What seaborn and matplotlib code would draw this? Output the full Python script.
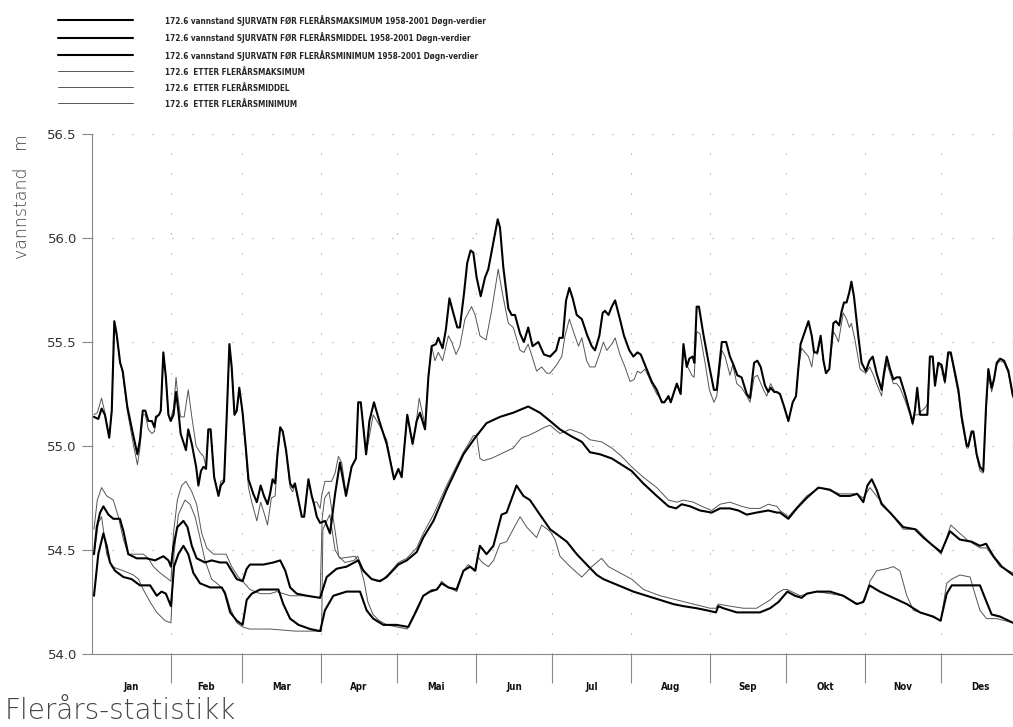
import os
import matplotlib
matplotlib.use("Agg")
import matplotlib.pyplot as plt
from matplotlib import font_manager as fm
import seaborn as sns
import numpy as np

# ---------------- data (day of year, water level m) ----------------
maks_for_day = [0.7,2.4,3.7,5.0,6.7,7.7,8.7,9.6,11.0,12.0,13.8,16.0,17.8,18.8,19.9,20.9,22.1,23.5,24.5,25.1,26.3,27.0,28.0,29.0,30.0,30.9,32.0,33.0,33.9,34.8,36.9,37.8,39.2,40.9,41.8,42.8,43.8,44.8,45.7,46.6,48.0,49.7,50.6,51.9,53.0,54.0,54.9,56.0,56.9,57.9,59.2,60.4,61.5,63.4,64.8,66.3,67.6,69.0,70.0,71.0,72.0,72.9,74.0,75.0,76.3,77.9,78.9,79.8,80.8,82.5,83.4,85.1,86.4,87.3,88.4,89.7,91.6,93.6,95.6,97.5,99.9,102.1,103.8,104.7,105.7,107.8,109.1,110.9,113.0,115.9,118.8,120.5,121.8,124.0,126.1,127.7,129.0,131.0,132.3,133.6,135.3,136.2,137.9,139.2,140.6,142.1,143.7,144.7,146.3,147.6,148.9,150.0,151.3,152.9,154.6,155.9,157.6,159.6,160.5,161.8,163.8,165.1,166.4,168.4,169.9,171.6,173.3,175.6,177.8,180.2,182.6,183.9,185.2,186.5,187.8,189.1,190.7,192.7,194.9,196.6,197.9,199.6,200.9,201.8,203.2,204.5,205.8,207.7,209.3,211.4,213.0,214.6,215.9,218.2,220.2,222.2,224.2,225.2,226.8,227.7,229.0,230.1,231.6,232.7,234.0,235.0,236.3,237.0,237.9,238.8,240.5,242.9,244.7,245.8,247.8,249.5,251.0,252.4,253.9,255.6,257.6,258.9,260.5,261.8,263.1,264.8,266.1,267.0,268.4,269.4,270.7,272.3,274.0,275.7,277.0,277.9,278.8,280.2,281.9,283.2,284.1,285.4,286.7,287.8,288.8,290.1,291.7,292.7,294.0,295.0,295.9,296.9,298.0,298.8,299.8,301.5,302.8,304.5,305.9,307.2,308.7,310.7,311.6,312.7,314.0,315.3,316.6,317.9,319.9,321.9,322.9,323.8,324.7,325.8,327.1,328.7,329.7,330.8,331.7,333.0,334.3,335.6,336.9,337.9,339.6,340.9,342.2,344.2,344.8,346.1,346.8,348.1,349.4,350.7,351.8,352.7,354.0,354.9,356.0,357.3,358.9,360.6,362.4]
maks_for_val = [55.14,55.13,55.18,55.15,55.04,55.17,55.60,55.54,55.40,55.36,55.19,55.06,54.96,55.03,55.17,55.17,55.12,55.12,55.09,55.14,55.15,55.17,55.45,55.33,55.15,55.12,55.15,55.26,55.17,55.06,54.98,55.08,55.01,54.90,54.81,54.88,54.90,54.89,55.08,55.08,54.85,54.76,54.81,54.83,55.16,55.49,55.38,55.15,55.17,55.28,55.16,55.00,54.84,54.77,54.73,54.81,54.76,54.72,54.77,54.84,54.82,54.96,55.09,55.07,54.98,54.82,54.80,54.82,54.76,54.66,54.66,54.84,54.76,54.72,54.66,54.63,54.64,54.58,54.77,54.92,54.76,54.90,54.94,55.21,55.21,54.96,55.12,55.21,55.12,55.01,54.84,54.89,54.85,55.15,55.01,55.12,55.16,55.08,55.33,55.48,55.49,55.52,55.47,55.56,55.71,55.64,55.57,55.57,55.73,55.88,55.94,55.93,55.81,55.72,55.81,55.85,55.96,56.09,56.05,55.86,55.66,55.63,55.63,55.54,55.50,55.57,55.48,55.50,55.44,55.43,55.46,55.52,55.52,55.70,55.76,55.71,55.63,55.61,55.53,55.48,55.46,55.53,55.64,55.65,55.63,55.67,55.70,55.61,55.53,55.46,55.43,55.45,55.44,55.37,55.31,55.27,55.21,55.21,55.24,55.21,55.26,55.30,55.25,55.49,55.38,55.42,55.43,55.40,55.67,55.67,55.54,55.38,55.27,55.27,55.50,55.50,55.43,55.39,55.34,55.33,55.25,55.23,55.40,55.41,55.38,55.29,55.26,55.28,55.26,55.26,55.25,55.19,55.12,55.21,55.24,55.37,55.49,55.54,55.60,55.53,55.45,55.45,55.53,55.41,55.35,55.37,55.59,55.60,55.58,55.65,55.69,55.69,55.74,55.79,55.72,55.53,55.40,55.36,55.41,55.43,55.35,55.27,55.35,55.43,55.37,55.32,55.33,55.33,55.25,55.16,55.11,55.17,55.28,55.15,55.15,55.15,55.43,55.43,55.29,55.40,55.39,55.31,55.45,55.45,55.35,55.27,55.14,55.00,55.00,55.07,55.07,54.96,54.90,54.88,55.19,55.37,55.28,55.32,55.40,55.42,55.41,55.36,55.24]

middel_for_day = [0.7,1.8,3.1,4.4,6.4,8.3,10.9,12.3,14.2,17.5,21.4,24.7,28.0,30.0,31.0,32.0,33.5,35.9,37.5,39.2,41.1,44.4,47.0,50.3,52.9,54.9,56.9,59.2,60.8,62.1,67.4,71.3,74.0,76.0,77.9,80.5,84.5,89.7,92.3,96.2,100.1,104.7,106.7,110.0,113.3,115.9,120.5,123.8,127.7,130.3,134.3,139.5,146.1,150.7,155.2,160.5,165.7,171.6,176.2,180.2,184.1,188.1,192.7,195.9,199.9,204.5,208.4,212.3,216.9,222.2,226.8,229.8,232.0,235.3,239.2,243.8,247.1,251.0,254.3,257.6,261.5,266.1,269.4,270.7,274.0,277.3,281.2,285.8,290.4,294.3,298.2,301.1,303.5,305.1,306.8,308.7,310.7,314.0,319.2,323.8,327.1,331.0,334.1,337.6,341.5,346.1,349.4,351.8,354.7,358.0,362.4]
middel_for_val = [54.48,54.61,54.68,54.71,54.67,54.65,54.65,54.59,54.48,54.46,54.46,54.45,54.47,54.45,54.42,54.52,54.61,54.64,54.61,54.52,54.46,54.44,54.45,54.44,54.44,54.40,54.36,54.35,54.41,54.43,54.43,54.44,54.45,54.40,54.32,54.29,54.28,54.27,54.37,54.41,54.42,54.45,54.40,54.36,54.35,54.37,54.43,54.45,54.49,54.56,54.64,54.79,54.96,55.04,55.11,55.14,55.16,55.19,55.16,55.12,55.08,55.05,55.02,54.97,54.96,54.94,54.91,54.88,54.82,54.76,54.71,54.70,54.72,54.71,54.69,54.68,54.70,54.70,54.69,54.67,54.68,54.69,54.68,54.68,54.65,54.70,54.75,54.80,54.79,54.76,54.76,54.77,54.73,54.81,54.84,54.79,54.72,54.68,54.61,54.60,54.56,54.52,54.49,54.59,54.55,54.54,54.52,54.53,54.47,54.42,54.38]

min_for_day = [0.7,2.4,4.4,5.7,7.0,9.0,12.3,15.5,18.8,22.8,25.4,27.3,29.0,31.0,32.2,33.9,35.9,37.8,39.8,42.4,46.4,51.0,52.3,54.3,56.9,59.2,60.8,62.8,66.1,70.0,73.3,75.2,77.9,81.2,85.8,89.7,91.6,94.9,100.1,105.4,108.0,110.6,114.6,119.8,124.4,127.7,130.3,133.0,135.6,137.5,140.2,143.4,146.1,148.7,150.7,152.6,155.2,157.9,161.1,163.1,167.0,169.7,172.3,176.2,180.2,183.5,186.8,190.7,194.6,198.6,201.2,205.1,209.1,213.0,218.2,223.5,228.7,232.7,237.9,241.9,245.5,246.4,248.4,253.7,258.9,262.8,266.8,270.1,273.6,276.6,279.2,281.2,285.1,290.4,295.6,300.9,303.5,305.9,310.0,315.3,320.6,325.8,331.0,333.9,336.3,338.3,341.5,345.5,349.4,352.0,354.0,357.3,362.4]
min_for_val = [54.28,54.48,54.58,54.52,54.44,54.40,54.37,54.36,54.33,54.33,54.28,54.30,54.29,54.23,54.42,54.48,54.52,54.48,54.39,54.34,54.32,54.32,54.29,54.20,54.16,54.14,54.26,54.29,54.31,54.31,54.31,54.24,54.17,54.14,54.12,54.11,54.21,54.28,54.30,54.30,54.21,54.17,54.14,54.14,54.13,54.21,54.28,54.30,54.31,54.34,54.32,54.31,54.40,54.42,54.40,54.52,54.48,54.52,54.67,54.68,54.81,54.76,54.74,54.67,54.60,54.57,54.54,54.48,54.43,54.38,54.36,54.34,54.32,54.30,54.28,54.26,54.24,54.23,54.22,54.21,54.20,54.23,54.22,54.20,54.20,54.20,54.22,54.25,54.30,54.28,54.27,54.29,54.30,54.30,54.28,54.24,54.25,54.33,54.30,54.27,54.24,54.20,54.18,54.16,54.29,54.33,54.33,54.33,54.33,54.25,54.19,54.18,54.15]

maks_etter_day = [0.7,2.0,3.7,5.0,6.7,7.7,8.7,9.6,11.0,12.0,13.8,16.0,17.8,18.8,19.9,20.9,22.1,23.5,24.5,25.1,26.3,27.0,28.0,29.0,30.0,30.9,32.0,33.0,33.9,34.8,36.2,37.8,39.2,40.9,42.4,43.8,44.8,45.7,46.6,48.0,49.7,50.6,51.9,53.0,54.0,54.9,56.0,56.9,57.9,59.2,60.4,61.5,62.8,64.8,66.3,67.6,69.0,70.5,72.0,72.9,74.0,75.0,76.3,77.9,78.9,79.8,80.8,82.5,83.4,85.1,86.4,87.3,88.4,89.7,90.3,91.6,94.2,95.6,96.9,98.2,99.9,102.1,103.8,104.7,105.7,107.8,110.6,113.0,115.9,118.8,120.5,121.8,124.0,126.1,127.7,128.7,131.0,132.3,133.6,134.9,136.2,137.9,140.2,141.5,143.2,144.7,146.7,149.3,150.7,152.6,155.0,157.2,159.8,161.5,163.8,165.7,168.4,169.9,171.6,174.9,176.9,178.9,180.2,182.8,184.8,186.1,187.8,189.4,191.4,192.7,194.6,195.9,197.9,199.9,201.2,202.5,204.5,205.8,207.7,209.7,211.7,213.3,214.6,215.9,217.6,220.2,222.2,224.8,226.8,227.7,229.0,230.1,231.6,232.7,234.0,236.0,236.9,237.9,239.2,241.2,242.9,244.7,245.8,247.8,249.1,251.0,252.1,253.7,255.6,257.6,258.9,260.5,261.8,264.2,265.5,267.0,268.7,270.7,272.3,274.0,275.7,277.0,277.9,279.2,281.9,283.2,284.1,285.4,286.7,287.8,288.8,290.1,291.7,292.7,293.7,295.6,296.9,298.0,298.8,300.2,302.2,304.5,306.0,307.5,308.7,310.7,311.6,312.7,314.0,315.3,316.6,317.9,319.9,321.9,322.9,323.8,325.0,326.5,327.5,328.7,329.7,330.8,331.7,333.0,334.3,335.6,336.9,337.9,339.6,340.9,342.2,344.2,344.8,346.1,346.8,348.1,349.4,350.7,351.8,352.7,354.0,354.9,356.0,357.3,358.9,360.6,362.4]
maks_etter_val = [55.15,55.16,55.23,55.16,55.04,55.17,55.58,55.53,55.40,55.35,55.17,55.02,54.91,54.99,55.15,55.15,55.08,55.06,55.07,55.13,55.15,55.17,55.44,55.33,55.15,55.13,55.18,55.33,55.22,55.14,55.14,55.27,55.14,55.00,54.97,54.95,54.90,55.08,55.08,54.85,54.77,54.83,54.84,55.16,55.48,55.37,55.15,55.17,55.28,55.15,54.98,54.80,54.73,54.64,54.73,54.68,54.62,54.75,54.76,54.94,55.09,55.07,54.97,54.80,54.78,54.81,54.75,54.66,54.66,54.84,54.76,54.73,54.73,54.70,54.76,54.83,54.83,54.87,54.95,54.92,54.77,54.90,54.94,55.21,55.21,54.96,55.15,55.10,55.03,54.84,54.89,54.85,55.15,55.01,55.13,55.23,55.10,55.33,55.48,55.41,55.45,55.41,55.53,55.50,55.44,55.48,55.61,55.67,55.63,55.53,55.51,55.65,55.85,55.73,55.59,55.57,55.46,55.45,55.49,55.36,55.38,55.35,55.35,55.39,55.43,55.53,55.61,55.55,55.48,55.52,55.41,55.38,55.38,55.45,55.50,55.46,55.49,55.52,55.44,55.38,55.31,55.32,55.36,55.35,55.37,55.30,55.25,55.21,55.23,55.21,55.26,55.29,55.25,55.46,55.39,55.34,55.33,55.55,55.54,55.40,55.27,55.21,55.24,55.46,55.43,55.34,55.39,55.30,55.28,55.24,55.21,55.33,55.34,55.27,55.24,55.30,55.26,55.25,55.19,55.12,55.21,55.24,55.37,55.47,55.43,55.38,55.46,55.44,55.52,55.41,55.35,55.37,55.55,55.53,55.50,55.64,55.61,55.57,55.59,55.51,55.37,55.35,55.38,55.34,55.30,55.24,55.33,55.40,55.35,55.30,55.30,55.28,55.22,55.15,55.10,55.15,55.15,55.17,55.18,55.20,55.43,55.43,55.31,55.40,55.37,55.30,55.44,55.44,55.33,55.25,55.12,54.99,54.99,55.06,55.06,54.95,54.88,54.87,55.17,55.34,55.26,55.31,55.39,55.41,55.40,55.35,55.23]

middel_etter_day = [0.7,2.0,3.7,5.7,8.3,10.3,12.3,14.2,17.5,20.1,22.1,24.1,26.7,31.0,32.0,33.5,35.2,36.9,39.2,41.1,43.1,45.1,47.7,50.3,52.7,54.9,57.5,59.2,62.1,66.1,70.0,72.6,77.9,84.5,89.7,90.5,91.5,93.2,95.5,97.0,99.5,103.0,104.5,106.5,109.0,112.0,114.5,117.0,120.5,123.8,127.7,130.3,134.3,139.5,146.1,150.0,151.3,152.6,154.0,157.0,160.5,165.7,169.0,171.6,175.0,178.0,180.2,184.1,188.1,192.7,195.9,200.5,204.5,208.4,212.3,216.9,222.2,226.8,230.1,232.7,236.6,239.9,243.8,247.1,251.0,255.6,258.9,262.8,266.1,269.4,270.7,274.0,281.2,286.4,294.3,300.9,303.5,306.1,310.0,319.2,324.5,334.1,337.9,344.2,349.4,352.0,357.3,362.4]
middel_etter_val = [54.60,54.74,54.80,54.76,54.74,54.66,54.55,54.48,54.48,54.48,54.46,54.42,54.39,54.35,54.58,54.74,54.81,54.83,54.78,54.72,54.58,54.51,54.48,54.48,54.48,54.42,54.37,54.35,54.31,54.29,54.29,54.30,54.28,54.28,54.27,54.65,54.75,54.78,54.60,54.47,54.44,54.45,54.47,54.41,54.37,54.35,54.36,54.39,54.44,54.46,54.51,54.58,54.67,54.81,54.97,55.05,55.05,54.94,54.93,54.94,54.96,54.99,55.04,55.05,55.07,55.09,55.10,55.06,55.08,55.06,55.03,55.02,54.99,54.95,54.90,54.85,54.80,54.74,54.73,54.74,54.73,54.71,54.69,54.72,54.73,54.71,54.70,54.70,54.72,54.71,54.69,54.66,54.76,54.80,54.77,54.77,54.75,54.80,54.74,54.60,54.60,54.48,54.62,54.55,54.51,54.51,54.42,54.39]

min_etter_day = [0.7,2.4,3.7,5.7,7.7,12.3,16.2,18.2,20.1,22.8,25.4,28.7,31.0,32.2,33.9,36.5,38.5,40.5,42.4,44.4,47.0,50.0,52.3,54.3,56.9,59.2,62.0,70.0,80.0,89.7,90.3,90.8,93.5,95.6,97.5,103.5,105.0,107.0,108.5,110.5,113.0,116.0,120.0,124.0,127.7,130.3,133.6,136.0,137.5,140.2,143.5,146.1,148.0,151.0,151.6,153.5,155.9,158.0,160.5,163.1,165.7,168.4,171.0,174.9,176.9,180.2,182.2,184.1,188.1,192.7,196.6,200.5,203.2,207.7,212.3,217.0,223.5,230.1,236.6,243.2,245.5,246.4,251.0,256.3,261.5,266.8,269.4,272.0,273.6,278.6,285.1,295.6,301.5,304.2,306.1,308.7,312.7,315.3,317.9,320.6,323.2,328.4,334.0,336.3,338.3,341.5,345.5,347.4,349.4,352.0,356.0,362.4]
min_etter_val = [54.48,54.63,54.66,54.48,54.42,54.40,54.38,54.36,54.31,54.25,54.20,54.16,54.15,54.48,54.67,54.74,54.72,54.66,54.56,54.45,54.36,54.33,54.30,54.22,54.15,54.13,54.12,54.12,54.11,54.11,54.11,54.60,54.67,54.50,54.46,54.47,54.44,54.35,54.25,54.19,54.16,54.14,54.13,54.12,54.22,54.28,54.31,54.31,54.35,54.32,54.30,54.40,54.43,54.40,54.47,54.44,54.42,54.45,54.53,54.54,54.60,54.66,54.61,54.56,54.62,54.59,54.55,54.47,54.42,54.37,54.42,54.46,54.42,54.39,54.36,54.31,54.28,54.26,54.24,54.22,54.22,54.24,54.23,54.22,54.22,54.26,54.29,54.31,54.31,54.28,54.30,54.28,54.24,54.26,54.35,54.40,54.41,54.42,54.40,54.28,54.21,54.19,54.16,54.34,54.36,54.38,54.37,54.29,54.21,54.17,54.17,54.15]

month_names = ["Jan", "Feb", "Mar", "Apr", "Mai", "Jun", "Jul", "Aug", "Sep", "Okt", "Nov", "Des"]
month_lengths = [31, 28, 31, 30, 31, 30, 31, 31, 30, 31, 30, 31]
y_ticks = [54.0, 54.5, 55.0, 55.5, 56.0, 56.5]

labels = [
    "172.6 vannstand SJURVATN FØR FLERÅRSMAKSIMUM 1958-2001 Døgn-verdier",
    "172.6 vannstand SJURVATN FØR FLERÅRSMIDDEL 1958-2001 Døgn-verdier",
    "172.6 vannstand SJURVATN FØR FLERÅRSMINIMUM 1958-2001 Døgn-verdier",
    "172.6  ETTER FLERÅRSMAKSIMUM",
    "172.6  ETTER FLERÅRSMIDDEL",
    "172.6  ETTER FLERÅRSMINIMUM",
]

# ---------------- fonts ----------------
sns.set_style("white")
plt.rcParams['font.family'] = ['DejaVu Sans']


def find_narrow_bold():
    best = None
    for f in fm.fontManager.ttflist:
        base = os.path.basename(f.fname).lower()
        text = (f.name + " " + base).lower()
        narrowish = ("narrow" in text or "condensed" in text or "cond" in base
                     or str(f.stretch).lower() in ("condensed", "semi-condensed", "extra-condensed"))
        if not narrowish:
            continue
        w = f.weight if isinstance(f.weight, int) else {"bold": 700, "normal": 400}.get(str(f.weight), 400)
        bold = w >= 600 or "bold" in base
        italic = "italic" in base or "oblique" in base or f.style != "normal"
        score = (2 if bold else 0) + (0 if italic else 3)
        if best is None or score > best[0]:
            best = (score, f.fname)
    if best is not None:
        return fm.FontProperties(fname=best[1])
    return fm.FontProperties(family="Roboto", weight="bold")


narrow_fp = find_narrow_bold()

fig = plt.figure(figsize=(10.13, 7.27), dpi=100)
ax = fig.add_axes([92.2 / 1013, 73 / 727, 927.4 / 1013, 520 / 727])

# size the narrow font so the longest legend entry matches the reference width
renderer = fig.canvas.get_renderer()
probe_fp = narrow_fp.copy()
probe_fp.set_size(7)
probe = fig.text(0, 0, labels[0], fontproperties=probe_fp)
w = probe.get_window_extent(renderer).width
probe.remove()
nsize = float(np.clip(7 * 322 / max(w, 1), 5.5, 8.0))
fs_px = nsize * 100 / 72
leg_fp = narrow_fp.copy()
leg_fp.set_size(nsize)
mon_fp = narrow_fp.copy()
mon_fp.set_size(nsize * 1.2)

series = [
    (maks_for_day, maks_for_val, labels[0], True),
    (middel_for_day, middel_for_val, labels[1], True),
    (min_for_day, min_for_val, labels[2], True),
    (maks_etter_day, maks_etter_val, labels[3], False),
    (middel_etter_day, middel_etter_val, labels[4], False),
    (min_etter_day, min_etter_val, labels[5], False),
]
for d, v, lab, thick in series:
    sns.lineplot(x=d, y=v, ax=ax, estimator=None, sort=False,
                 color="black" if thick else "#555555",
                 linewidth=1.5 if thick else 0.7,
                 zorder=4 if thick else 3, label=lab)

ax.set_xlim(0, 365)
ax.set_ylim(54.0, 56.5)

bounds = list(np.cumsum(month_lengths)[:-1])
centers = [s + l / 2 for s, l in zip([0] + bounds, month_lengths)]
ax.set_xticks(bounds)
ax.set_xticklabels([""] * len(bounds))
ax.set_xticks(centers, minor=True)
ax.set_xticklabels(month_names, minor=True, fontproperties=mon_fp, color="#111111")
ax.tick_params(axis="x", which="major", bottom=True, length=21, width=0.8,
               color="#888888", direction="out")
ax.tick_params(axis="x", which="minor", bottom=True, length=0, pad=20)

ax.set_yticks(y_ticks)
ax.set_yticklabels([f"{t:.1f}" for t in y_ticks], fontsize=9.5, color="#333333")
ax.tick_params(axis="y", which="major", left=True, length=7, width=0.8,
               color="#888888", pad=4, direction="out")

ax.grid(True, which="major", color="#999999", linewidth=0.8, linestyle=(0, (1, 17)))
for s in ["top", "right"]:
    ax.spines[s].set_visible(False)
for s in ["left", "bottom"]:
    ax.spines[s].set_color("#888888")
    ax.spines[s].set_linewidth(0.8)
ax.set_xlabel("")
ax.set_ylabel("")

handles, labs = ax.get_legend_handles_labels()
hh = 1.3
ls = max(16.6 - hh * fs_px, 0) / fs_px + 0.09
leg = ax.legend(handles, labs, loc="upper left",
                bbox_to_anchor=(58 / 1013, 1 - (20 - hh * fs_px / 2) / 727),
                bbox_transform=fig.transFigure, frameon=False, borderpad=0, borderaxespad=0,
                handlelength=75 / fs_px, handletextpad=32 / fs_px,
                handleheight=hh, labelspacing=ls, prop=leg_fp)

fig.text(22 / 1013, 1 - 197 / 727, "vannstand   m", rotation=90, ha="center", va="center",
         fontsize=12.5, color="#444444", fontweight="light")
fig.text(5 / 1013, 1 - 711 / 727, "Flerårs-statistikk", ha="left", va="center",
         fontsize=20, color="#444444", fontweight="light")

fig.savefig("out.png", dpi=100)
